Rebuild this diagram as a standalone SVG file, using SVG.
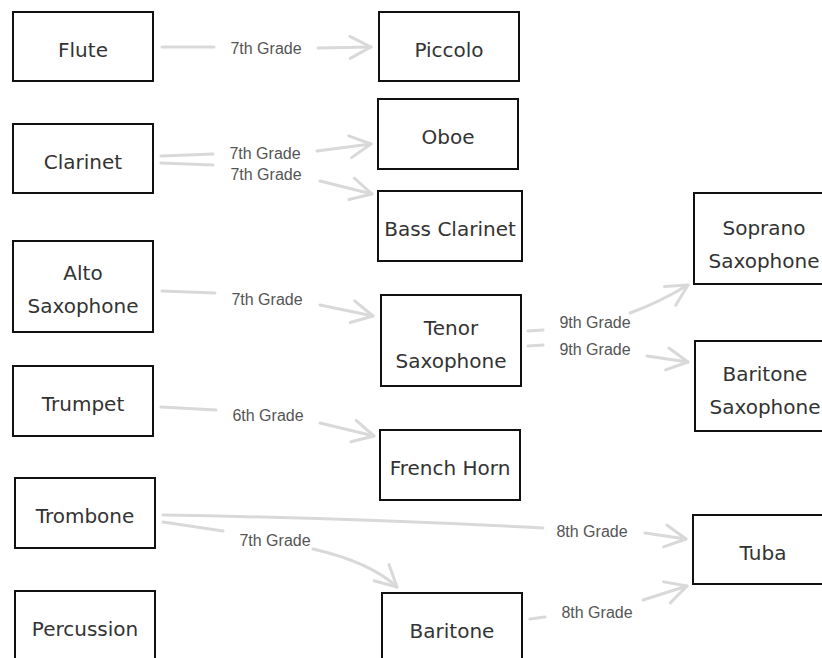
<svg xmlns="http://www.w3.org/2000/svg" width="822" height="658" viewBox="0 0 822 658">
<style>
.node rect{fill:#fff;stroke:#111;stroke-width:2}
.node text{font-family:"DejaVu Sans",sans-serif;font-size:20px;fill:#333;text-anchor:middle}
.edge path{fill:none;stroke:#d9d9d9;stroke-width:3;stroke-linecap:round;stroke-linejoin:round}
.edge text{font-family:"Liberation Sans",Arial,sans-serif;font-size:16px;fill:#555;text-anchor:middle}
</style>
<defs>
<marker id="ah" markerUnits="userSpaceOnUse" viewBox="-26 -15 30 30" markerWidth="30" markerHeight="30" refX="0" refY="0" orient="auto">
<path d="M-21,-11 L0,0 L-21,11" fill="none" stroke="#d9d9d9" stroke-width="3" stroke-linecap="round" stroke-linejoin="round"/>
</marker>
</defs>
<rect width="822" height="658" fill="#fff"/>
<g id="connectors">
<g class="edge" id="e-flute-piccolo"><path d="M162,47 L214,47"/><text x="266" y="54">7th Grade</text><path d="M318,48 L371,47" marker-end="url(#ah)"/></g>
<g class="edge" id="e-clarinet-oboe"><path d="M161,156 L213,154"/><text x="265" y="159">7th Grade</text><path d="M317,151 L371,144" marker-end="url(#ah)"/></g>
<g class="edge" id="e-clarinet-bassclarinet"><path d="M161,163 L213,165"/><text x="266" y="180">7th Grade</text><path d="M320,181 L372,194" marker-end="url(#ah)"/></g>
<g class="edge" id="e-alto-tenor"><path d="M162,291 L215,293"/><text x="267" y="305">7th Grade</text><path d="M320,305 L373,316" marker-end="url(#ah)"/></g>
<g class="edge" id="e-trumpet-frenchhorn"><path d="M161,407 L216,410"/><text x="268" y="421">6th Grade</text><path d="M320,423 L374,436" marker-end="url(#ah)"/></g>
<g class="edge" id="e-tenor-soprano"><path d="M528,331 L543,330"/><text x="595" y="328">9th Grade</text><path d="M630,313 Q660,302 688,285" marker-end="url(#ah)"/></g>
<g class="edge" id="e-tenor-baritonesax"><path d="M528,346 L543,345"/><text x="595" y="355">9th Grade</text><path d="M647,356 L688,362" marker-end="url(#ah)"/></g>
<g class="edge" id="e-trombone-tuba"><path d="M163,515 Q350,518 543,528"/><text x="592" y="537">8th Grade</text><path d="M645,533 L686,539" marker-end="url(#ah)"/></g>
<g class="edge" id="e-trombone-baritone"><path d="M163,522 L223,531"/><text x="275" y="546">7th Grade</text><path d="M313,549 Q370,562 397,587" marker-end="url(#ah)"/></g>
<g class="edge" id="e-baritone-tuba"><path d="M530,619 L545,617"/><text x="597" y="618">8th Grade</text><path d="M643,600 L687,586" marker-end="url(#ah)"/></g>
</g>
<g class="node" id="n-flute"><rect x="13" y="12" width="140" height="69"/><text x="83" y="57">Flute</text></g>
<g class="node" id="n-clarinet"><rect x="13" y="124" width="140" height="69"/><text x="83" y="169">Clarinet</text></g>
<g class="node" id="n-altosax"><rect x="13" y="241" width="140" height="91"/><text x="83" y="280">Alto</text><text x="83" y="313">Saxophone</text></g>
<g class="node" id="n-trumpet"><rect x="13" y="366" width="140" height="70"/><text x="83" y="411">Trumpet</text></g>
<g class="node" id="n-trombone"><rect x="15" y="478" width="140" height="70"/><text x="85" y="523">Trombone</text></g>
<g class="node" id="n-percussion"><rect x="15" y="591" width="140" height="70"/><text x="85" y="636">Percussion</text></g>
<g class="node" id="n-piccolo"><rect x="379" y="12" width="140" height="69"/><text x="449" y="57">Piccolo</text></g>
<g class="node" id="n-oboe"><rect x="378" y="99" width="140" height="70"/><text x="448" y="144">Oboe</text></g>
<g class="node" id="n-bassclarinet"><rect x="378" y="191" width="144" height="70"/><text x="450" y="236">Bass Clarinet</text></g>
<g class="node" id="n-tenorsax"><rect x="381" y="295" width="140" height="91"/><text x="451" y="335">Tenor</text><text x="451" y="368">Saxophone</text></g>
<g class="node" id="n-frenchhorn"><rect x="380" y="430" width="140" height="70"/><text x="450" y="475">French Horn</text></g>
<g class="node" id="n-baritone"><rect x="382" y="593" width="140" height="70"/><text x="452" y="638">Baritone</text></g>
<g class="node" id="n-sopranosax"><rect x="694" y="193" width="140" height="91"/><text x="764" y="235">Soprano</text><text x="764" y="268">Saxophone</text></g>
<g class="node" id="n-baritonesax"><rect x="695" y="341" width="140" height="90"/><text x="765" y="381">Baritone</text><text x="765" y="414">Saxophone</text></g>
<g class="node" id="n-tuba"><rect x="693" y="515" width="140" height="69"/><text x="763" y="560">Tuba</text></g>
</svg>
